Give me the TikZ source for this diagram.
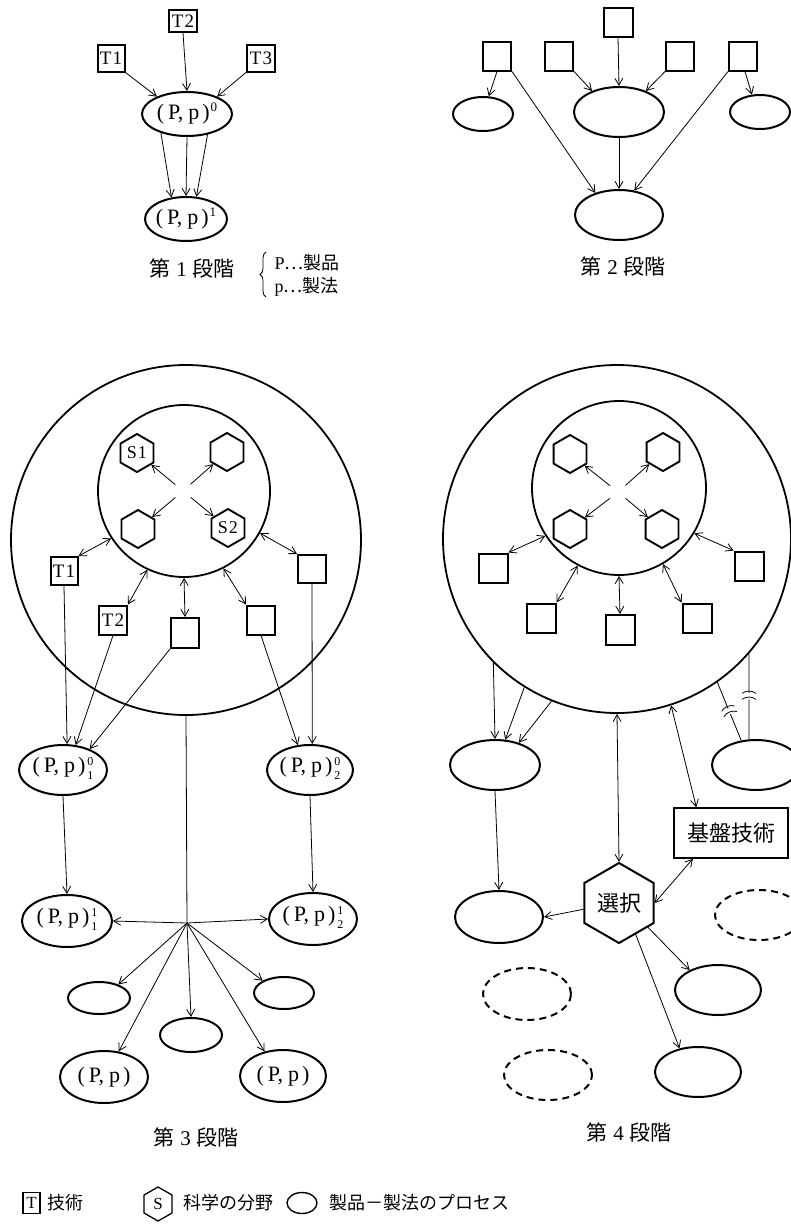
\documentclass[tikz,border=0pt]{standalone}
\usepackage{fontspec}
\setmainfont{Liberation Serif}
\newfontfamily\cjk{Noto Sans CJK JP}
\usetikzlibrary{shapes.geometric,arrows.meta,calc,decorations.pathreplacing}
\newcommand\stagelabel[1]{{\cjk 第}\hspace{6pt}#1\hspace{6pt}{\cjk 段階}}
\newcommand\pp{(\hspace{4pt}P,\hspace{5pt}p\hspace{3pt})}
\newcommand\ppsup[1]{\pp\hspace{1pt}\raisebox{8pt}{\fontsize{13}{13}\selectfont #1}}
\newcommand\ppss[2]{\pp\hspace{2pt}\raisebox{-1pt}{\fontsize{12}{13.5}\selectfont\begin{tabular}{@{}c@{}}#1\\#2\end{tabular}}}
\begin{document}
\begin{tikzpicture}[x=1pt,y=-1pt,
  box/.style={draw,line width=2pt,minimum width=28pt,minimum height=28pt,inner sep=0pt,font=\fontsize{19}{19}\selectfont},
  prod/.style={draw,ellipse,line width=2pt,inner sep=0pt},
  dprod/.style={prod,dash pattern=on 7pt off 5pt},
  hexa/.style={draw,regular polygon,regular polygon sides=6,shape border rotate=30,minimum size=38pt,inner sep=0pt,line width=1.9pt,font=\fontsize{18}{18}\selectfont},
  ring/.style={draw,circle,line width=1.8pt,inner sep=0pt},
  arr/.style={line width=0.8pt,-{Straight Barb[length=7pt,width=8pt]}},
  darr/.style={line width=0.8pt,{Straight Barb[length=7pt,width=8pt]}-{Straight Barb[length=7pt,width=8pt]}},
  ln/.style={line width=0.8pt},
  lab/.style={font=\fontsize{22}{22}\selectfont},
  stage/.style={font=\fontsize{21}{21}\selectfont},
  cjklab/.style={font=\cjk\fontsize{18}{18}\selectfont},
]
\fill[white] (0,0) rectangle (791,1224);
\useasboundingbox (0,0) rectangle (791,1224);

% ===== Stage 1 =====
\node[box,minimum width=27pt,minimum height=27pt] (T1) at (111,58) {T\hspace{1pt}1};
\node[box,minimum width=28pt,minimum height=22pt] (T2) at (183,21) {T\hspace{1pt}2};
\node[box,minimum width=28pt,minimum height=27pt] (T3) at (261,58) {T\hspace{1pt}3};
\node[prod,minimum width=90pt,minimum height=44pt,label={[lab]center:\ppsup{0}}] (e10) at (187,114) {};
\node[prod,minimum width=82pt,minimum height=44pt,label={[lab]center:\ppsup{1}}] (e11) at (186,219) {};
\draw[arr] (T1.south east) -- (e10.150);
\draw[arr] (T2.south) -- (e10.north);
\draw[arr] (T3.south west) -- (e10.30);
\draw[arr] (e10.216) -- (e11.124);
\draw[arr] (e10.south) -- (e11.north);
\draw[arr] (e10.315) -- (e11.65);
\node[stage] (s1) at (192,268) {\stagelabel{1}};
\draw[line width=0.8pt,decorate,decoration={brace,amplitude=6pt}] (266,297) -- (266,252);
\node[anchor=west,font=\fontsize{18}{18}\selectfont] (k1) at (271,263) {P{\cjk …製品}};
\node[anchor=west,font=\fontsize{18}{18}\selectfont] (k2) at (271,287) {p{\cjk …製法}};

% ===== Stage 2 =====
\node[box,minimum width=29pt,minimum height=29pt] (b2t) at (618,22) {};
\node[box,minimum width=28pt,minimum height=29pt] (b2l1) at (497,56) {};
\node[box,minimum width=28pt,minimum height=29pt] (b2l2) at (559,56) {};
\node[box,minimum width=28pt,minimum height=29pt] (b2r2) at (680,56) {};
\node[box,minimum width=28pt,minimum height=29pt] (b2r1) at (743,56) {};
\node[prod,minimum width=90pt,minimum height=50pt] (e2c) at (619,112) {};
\node[prod,minimum width=60pt,minimum height=34pt] (e2l) at (483,114) {};
\node[prod,minimum width=60pt,minimum height=34pt] (e2r) at (760,112) {};
\node[prod,minimum width=88pt,minimum height=50pt] (e2b) at (619,215) {};
\draw[arr] (b2l1.south) -- (e2l.72);
\draw[arr] (b2l1.south east) -- (e2b.137);
\draw[arr] (b2l2.south east) -- (e2c.142);
\draw[arr] (b2t.south) -- (e2c.north);
\draw[arr] (b2r2.south west) -- (e2c.38);
\draw[arr] (b2r1.south west) -- (e2b.58);
\draw[arr] ([xshift=2pt]b2r1.south) -- (e2r.115);
\draw[arr] (e2c.south) -- (e2b.north);
\node[stage] (s2) at (623,266) {\stagelabel{2}};

% ===== Stage 3 =====
\node[ring,minimum size=350pt] (O3) at (186,540) {};
\node[ring,minimum size=172pt] (I3) at (184,491) {};
\node[hexa] (h31) at (137,453) {S\hspace{1pt}1};
\node[hexa] (h32) at (227,452) {};
\node[hexa] (h33) at (138,529) {};
\node[hexa] (h34) at (228,528) {S\hspace{1pt}2};
\coordinate (c3) at (183,491);
\foreach \h in {h31,h32,h33,h34}{\draw[arr] ($(c3)!10pt!(\h)$) -- (\h);}
\node[box,minimum width=27pt,minimum height=28pt] (b31) at (64,571) {T\hspace{1pt}1};
\node[box,minimum width=28pt,minimum height=29pt] (b32) at (113,620) {T\hspace{1pt}2};
\node[box,minimum width=28pt,minimum height=30pt] (b33) at (185,633) {};
\node[box,minimum width=28pt,minimum height=29pt] (b34) at (261,620) {};
\node[box,minimum width=28pt,minimum height=28pt] (b35) at (312,569) {};
\draw[darr] (b31.north east) -- (I3.213);
\draw[darr] (b32.north east) -- (I3.245);
\draw[darr] (b33.north) -- (I3.270);
\draw[darr] (b34.north west) -- (I3.297);
\draw[darr] (b35.north west) -- (I3.331);
\node[prod,minimum width=88pt,minimum height=50pt,label={[lab]center:\ppss{0}{1}}] (e31) at (63,770) {};
\node[prod,minimum width=86pt,minimum height=50pt,label={[lab]center:\ppss{0}{2}}] (e32) at (310,770) {};
\node[prod,minimum width=90pt,minimum height=52pt,label={[lab]center:\ppss{1}{1}}] (e33) at (67,921) {};
\node[prod,minimum width=88pt,minimum height=52pt,label={[lab]center:\ppss{1}{2}}] (e34) at (313,919) {};
\node[prod,minimum width=62pt,minimum height=32pt] (e35) at (99,998) {};
\node[prod,minimum width=60pt,minimum height=32pt] (e36) at (284,993) {};
\node[prod,minimum width=62pt,minimum height=34pt] (e37) at (191,1035) {};
\node[prod,minimum width=88pt,minimum height=52pt,label={[lab]center:\pp}] (e38) at (104,1077) {};
\node[prod,minimum width=86pt,minimum height=52pt,label={[lab]center:\pp}] (e39) at (283,1076) {};
\draw[arr] (b31.south) -- (e31.81);
\draw[arr] (b32.south) -- (e31.63);
\draw[arr] (b33.south west) -- (e31.38);
\draw[arr] (b34.south) -- (e32.116);
\draw[arr] (b35.south) -- (e32.85);
\draw[arr] (e31.south) -- (e33.north);
\draw[arr] (e32.south) -- (e34.north);
\coordinate (hub) at (187,923);
\draw[ln] (O3.south) -- (hub);
\draw[arr] (hub) -- (e33.east);
\draw[arr] (hub) -- (e34.west);
\draw[arr] (hub) -- (e35.35);
\draw[arr] (hub) -- (e36.150);
\draw[arr] (hub) -- (e37.north);
\draw[arr] (hub) -- (e38.60);
\draw[arr] (hub) -- (e39.127);
\node[stage] (s3) at (196,1137) {\stagelabel{3}};

% ===== Stage 4 =====
\node[ring,minimum size=348pt] (O4) at (617,539) {};
\node[ring,minimum size=174pt] (I4) at (619,488) {};
\node[hexa] (h41) at (570,454) {};
\node[hexa] (h42) at (663,452) {};
\node[hexa] (h43) at (570,529) {};
\node[hexa] (h44) at (662,529) {};
\coordinate (c4) at (618,492);
\foreach \h in {h41,h42,h43,h44}{\draw[arr] ($(c4)!10pt!(\h)$) -- (\h);}
\node[box,minimum width=29pt,minimum height=29pt] (b41) at (493,568) {};
\node[box,minimum width=29pt,minimum height=29pt] (b42) at (541,618) {};
\node[box,minimum width=29pt,minimum height=30pt] (b43) at (620,630) {};
\node[box,minimum width=29pt,minimum height=29pt] (b44) at (697,618) {};
\node[box,minimum width=29pt,minimum height=29pt] (b45) at (749,566) {};
\draw[darr] (b41.north east) -- (I4.213);
\draw[darr] (b42.north east) -- (I4.242);
\draw[darr] (b43.north) -- (I4.270);
\draw[darr] (b44.north west) -- (I4.300);
\draw[darr] (b45.north west) -- (I4.329);
\node[prod,minimum width=90pt,minimum height=50pt] (e41) at (495,765) {};
\node[prod,minimum width=88pt,minimum height=50pt] (e42) at (756,765) {};
\node[prod,minimum width=88pt,minimum height=52pt] (e43) at (499,917) {};
\node[dprod,minimum width=88pt,minimum height=50pt] (e44) at (759,915) {};
\node[prod,minimum width=86pt,minimum height=50pt] (e45) at (718,990) {};
\node[prod,minimum width=86pt,minimum height=50pt] (e46) at (698,1072) {};
\node[dprod,minimum width=88pt,minimum height=52pt] (e47) at (527,994) {};
\node[dprod,minimum width=88pt,minimum height=50pt] (e48) at (548,1075) {};
\node[hexa,minimum size=80pt,line width=2pt,font=\cjk\fontsize{22}{22}\selectfont] (sel) at (619,903) {選択};
\node[draw,line width=1.6pt,minimum width=114pt,minimum height=50pt,inner sep=0pt,font=\cjk\fontsize{22}{22}\selectfont] (kiban) at (731,833) {基盤技術};
\draw[arr] (O4.225) -- (e41.north);
\draw[arr] (O4.238) -- (e41.68);
\draw[arr] (O4.248) -- (e41.43);
\draw[arr] (e41.south) -- (e43.north);
\draw[darr] (O4.270) -- (sel.north);
\draw[darr] (O4.288) -- ($(kiban.north west)!0.2!(kiban.north east)$);
\draw[darr] ($(kiban.south west)!0.17!(kiban.south east)$) -- (sel.east);
\draw[arr] (sel.190) -- (e43.east);
\draw[arr] (sel.320) -- (e45.145);
\draw[arr] (sel.298) -- (e46.128);
% broken connectors
\coordinate (qa) at (O4.305);
\coordinate (qb) at (e42.121);
\coordinate (qm) at ($(qa)!0.5!(qb)$);
\coordinate (qg1) at ($(qm)!3pt!(qa)$);
\coordinate (qg2) at ($(qm)!3pt!(qb)$);
\draw[ln] (qa) -- (qg1);
\draw[ln] (qg2) -- (qb);
\draw[ln] ($(qg1)!7pt!90:(qa)$) to[bend left=35] ($(qg1)!7pt!-90:(qa)$);
\draw[ln] ($(qg2)!7pt!90:(qa)$) to[bend left=35] ($(qg2)!7pt!-90:(qa)$);
\coordinate (ra) at (O4.319);
\coordinate (rb) at (ra |- e42.north);
\coordinate (rm) at ($(ra)!0.5!(rb)$);
\coordinate (rg1) at ($(rm)!3pt!(ra)$);
\coordinate (rg2) at ($(rm)!3pt!(rb)$);
\draw[ln] (ra) -- (rg1);
\draw[ln] (rg2) -- (rb);
\draw[ln] ($(rg1)!7pt!90:(ra)$) to[bend left=35] ($(rg1)!7pt!-90:(ra)$);
\draw[ln] ($(rg2)!7pt!90:(ra)$) to[bend left=35] ($(rg2)!7pt!-90:(ra)$);
\node[stage] (s4) at (629,1132) {\stagelabel{4}};

% ===== Legend =====
\node[draw,line width=1.3pt,minimum width=17pt,minimum height=21pt,inner sep=0pt,font=\fontsize{17}{17}\selectfont] (legT) at (31.5,1203) {T};
\node[cjklab,anchor=west] (legTt) at (44,1203) {技術};
\node[font=\fontsize{17}{17}\selectfont] (legS) at (158,1204) {S};
\draw[line width=1.3pt] ($(legS)+(0,-17)$) -- ++(14,8) -- ++(0,18) -- ++(-14,8) -- ++(-14,-8) -- ++(0,-18) -- cycle;
\node[cjklab,anchor=west] (legSt) at (180,1203) {科学の分野};
\node[draw,ellipse,line width=1.4pt,minimum width=30pt,minimum height=21pt,inner sep=0pt] (legE) at (302,1203) {};
\node[cjklab,anchor=west] (legEt) at (326,1203) {製品－製法のプロセス};
\end{tikzpicture}
\end{document}
